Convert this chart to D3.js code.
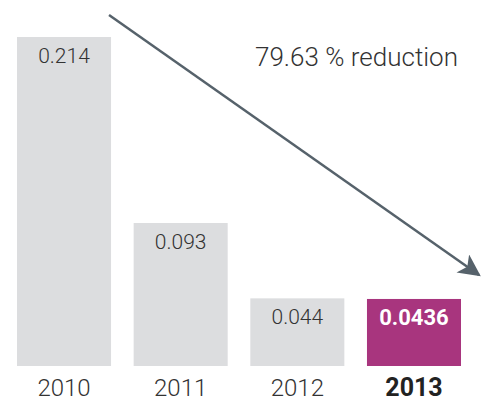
<!DOCTYPE html>
<html>
<head>
<meta charset="utf-8">
<script src="https://cdn.jsdelivr.net/npm/d3@7"></script>
<style>
  html, body { margin: 0; padding: 0; background: #ffffff; }
  svg { display: block; }
  text { font-family: Roboto, "Liberation Sans", Arial, sans-serif; }
</style>
</head>
<body>
<div id="chart"></div>
<script>
// Yearly values
const years = ["2010", "2011", "2012", "2013"];
const values = [0.214, 0.093, 0.044, 0.0436];
const valueLabels = ["0.214", "0.093", "0.044", "0.0436"];
const highlightYear = "2013";

const width = 486, height = 413;
const baseline = 366;

const svg = d3.select("#chart").append("svg")
  .attr("width", width)
  .attr("height", height);

const x = d3.scaleBand()
  .domain(years)
  .range([17, 461])
  .paddingInner(0.194)
  .paddingOuter(0);

const y = d3.scaleLinear()
  .domain([0, 0.214])
  .range([baseline, 37]);

const data = years.map((yr, i) => ({ year: yr, value: values[i], label: valueLabels[i] }));
const isHi = d => d.year === highlightYear;

// Bars
svg.selectAll("rect.bar")
  .data(data)
  .join("rect")
  .attr("class", "bar")
  .attr("x", d => x(d.year))
  .attr("y", d => y(d.value))
  .attr("width", x.bandwidth())
  .attr("height", d => y(0) - y(d.value))
  .attr("fill", d => isHi(d) ? "#a8357e" : "#dcdddf");

// Value labels inside the bars
svg.selectAll("text.value")
  .data(data)
  .join("text")
  .attr("class", "value")
  .attr("x", d => x(d.year) + x.bandwidth() / 2)
  .attr("y", d => y(d.value) + 26)
  .attr("text-anchor", "middle")
  .attr("font-size", d => isHi(d) ? 22 : 21)
  .attr("font-weight", d => isHi(d) ? 700 : 300)
  .attr("fill", d => isHi(d) ? "#ffffff" : "#333333")
  .text(d => d.label);

// Category axis labels
svg.selectAll("text.year")
  .data(data)
  .join("text")
  .attr("class", "year")
  .attr("x", d => x(d.year) + x.bandwidth() / 2)
  .attr("y", 396)
  .attr("text-anchor", "middle")
  .attr("font-size", d => isHi(d) ? 25 : 24)
  .attr("font-weight", d => isHi(d) ? 700 : 300)
  .attr("fill", d => isHi(d) ? "#222222" : "#333333")
  .text(d => d.year);

// Trend arrow from the first year to the last
const arrowColor = "#56626b";
svg.append("defs").append("marker")
  .attr("id", "arrowhead")
  .attr("viewBox", "0 0 10 10")
  .attr("refX", 9)
  .attr("refY", 5)
  .attr("markerUnits", "userSpaceOnUse")
  .attr("markerWidth", 24)
  .attr("markerHeight", 22)
  .attr("orient", "auto")
  .append("path")
  .attr("d", "M0,0 L10,5 L0,10 L2.5,5 Z")
  .attr("fill", arrowColor);

const first = data[0], last = data[data.length - 1];
svg.append("line")
  .attr("x1", x(first.year) + x.bandwidth() - 2)
  .attr("y1", y(first.value) - 22)
  .attr("x2", x(last.year) + x.bandwidth() + 18)
  .attr("y2", y(last.value) - 24)
  .attr("stroke", arrowColor)
  .attr("stroke-width", 2.5)
  .attr("marker-end", "url(#arrowhead)");

// Reduction annotation
const reduction = (first.value - last.value) / first.value * 100;
svg.append("text")
  .attr("x", x(last.year) + x.bandwidth() - 3)
  .attr("y", 66)
  .attr("text-anchor", "end")
  .attr("font-size", 26)
  .attr("font-weight", 300)
  .attr("fill", "#333333")
  .text(reduction.toFixed(2) + " % reduction");
</script>
</body>
</html>
